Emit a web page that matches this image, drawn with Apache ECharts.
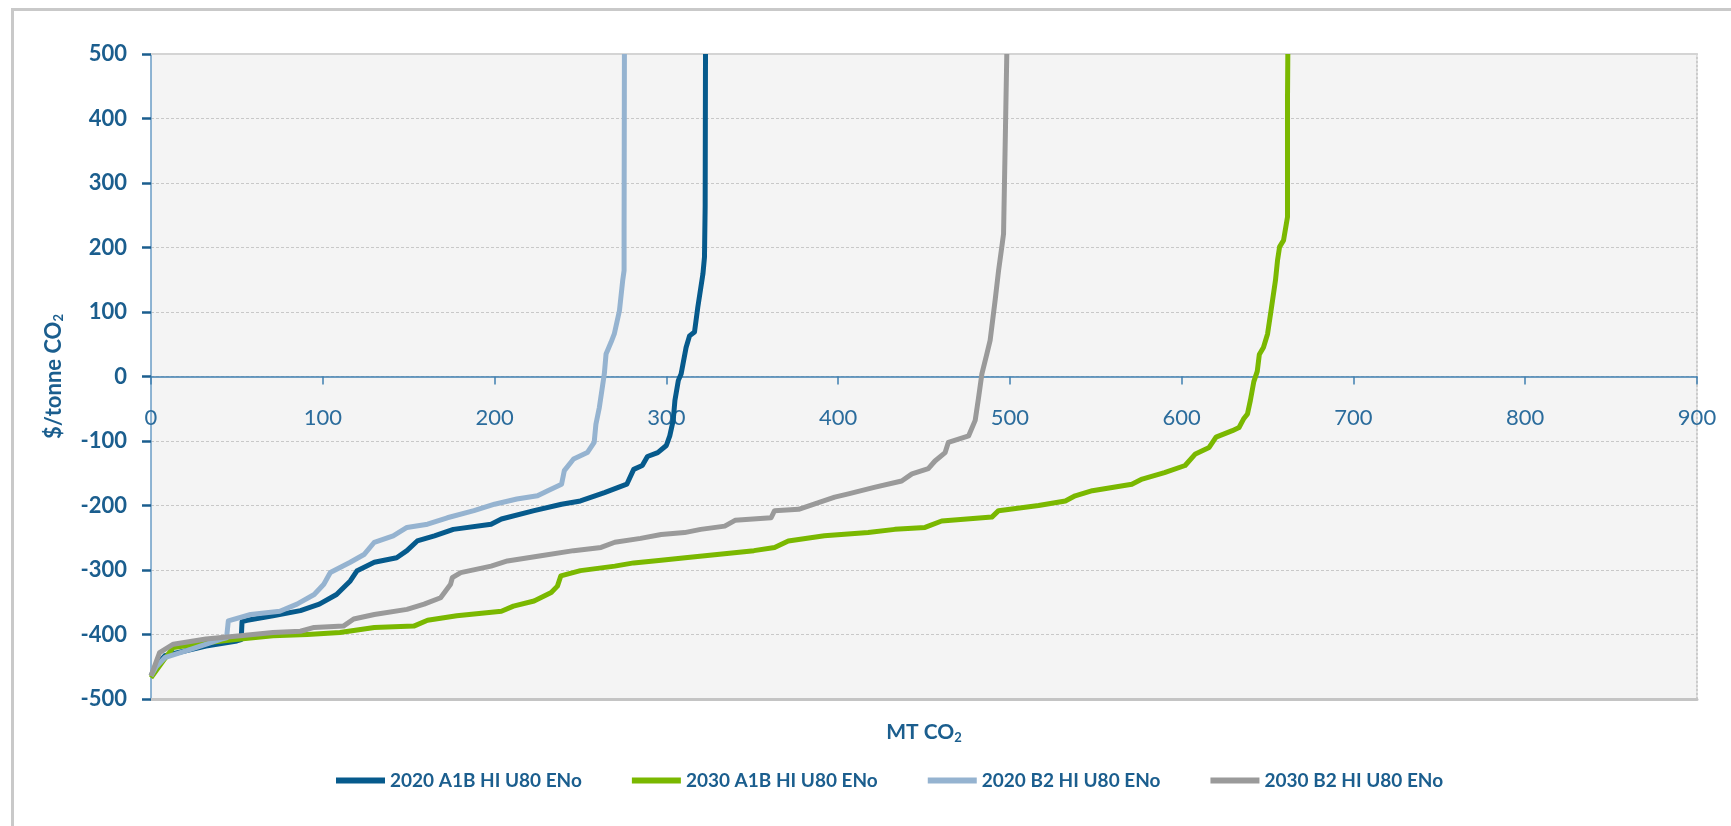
<!DOCTYPE html>
<html><head><meta charset="utf-8">
<script src="https://cdn.jsdelivr.net/npm/echarts@6/dist/echarts.min.js"></script>
<style>html,body{margin:0;padding:0;background:#fff}#c{width:1731px;height:826px}</style>
</head><body><div id="c"></div>
<script>
// ---- data (x: MT CO2, y: $/tonne CO2) ----
const seriesNames = ['2020 A1B HI U80 ENo', '2030 A1B HI U80 ENo', '2020 B2 HI U80 ENo', '2030 B2 HI U80 ENo'];
const seriesColors = ['#065a8c', '#7ab800', '#95b3d0', '#9a9a9a'];

const curve2020A1B = [[0,-464],[3,-448],[8,-433],[19,-426],[32,-418],[50,-410],[52.5,-408],[53,-380],[56,-378],[71,-371],[87,-363],[98,-353],[108,-338],[116,-317],[120,-301],[130,-288],[143,-281],[149,-270],[155,-255],[165,-247],[176,-237],[198,-229],[204,-221],[223,-208],[239,-198],[250,-193],[264,-180],[277,-167],[281,-144],[286,-138],[289,-124],[295,-118],[300,-107],[302,-92],[304,-68],[305,-37],[307,-6],[308.6,4],[311.5,45],[313.5,63],[316.4,69],[318.3,107],[321.3,159],[322.2,185],[322.6,263],[322.8,500]];

const curve2030A1B = [[0,-467],[7,-441],[13,-420],[32,-413],[52,-407],[71,-402],[91,-400],[110,-397],[130,-389],[153,-387],[161,-378],[178,-371],[204,-364],[211,-356],[223,-348],[233,-335],[236.6,-325],[238.6,-309],[250,-301],[270,-294],[281,-289],[297,-285],[311,-281],[351,-270],[363,-265],[371,-255],[392,-247],[417.5,-242],[433,-237],[450.6,-234],[460.3,-224],[489.5,-218],[493.4,-208],[516.7,-200],[532.3,-193],[538,-185],[548,-177],[571,-167],[577,-159],[590,-149],[602,-138],[608,-120],[616,-110],[620,-94],[629.5,-84],[633.4,-79],[636,-66],[638.3,-58],[640,-37],[642,-8],[644,8],[645.2,34],[647.6,45],[650,66],[652.3,107],[654.6,149],[655.8,180],[657,201],[659.3,211],[661.6,247],[661.6,428],[661.8,500]];

const curve2020B2 = [[0,-464],[3,-450],[8,-436],[23,-423],[41,-407],[44,-405],[45,-379],[46,-378],[58,-369],[75,-364],[85,-353],[95,-338],[100.6,-322],[104.4,-304],[116,-288],[124,-276],[130,-257],[141,-247],[149,-234],[161,-229],[172.5,-219],[188,-208],[200,-198],[213,-190],[225,-185],[231,-177],[239,-167],[240.6,-146],[246,-128],[254,-118],[258,-102],[259,-74],[261,-48],[262,-30],[263.9,4],[264.9,35],[267.8,53],[269.7,66],[272.7,102],[274.6,149],[275.4,164],[275.4,221],[275.6,500]];

const curve2030B2 = [[0,-464],[5,-428],[13,-415],[32,-407],[52,-402],[71,-397],[87,-395],[95,-389],[112,-387],[118,-376],[130,-369],[149,-361],[159,-353],[168.6,-343],[174.4,-322],[175.4,-312],[180.3,-304],[198,-294],[207.5,-286],[227,-278],[246,-270],[262,-265],[270,-257],[285,-251],[297,-245],[310.6,-242],[320,-237],[334,-232],[340,-223],[361,-219],[363,-208],[377,-206],[386,-198],[398,-187],[406,-182],[421,-172],[437,-162],[443,-151],[452.5,-143],[456.4,-131],[462.3,-118],[464.2,-102],[476,-92],[479.8,-68],[481.7,-34],[483.7,4],[486.6,35],[488.5,56],[491.4,118],[493.4,164],[495.3,201],[496.3,221],[497.3,366],[498.2,500]];

const seriesData = [curve2020A1B, curve2030A1B, curve2020B2, curve2030B2];
const xRange = [0, 900, 100];
const yRange = [-500, 500, 100];
const yAxisTitle = '{a|$/tonne CO}{s|2}';
const xAxisTitle = '{a|MT CO}{s|2}';

const DARK = '#1b5e8e';
const GRID = {left: 151, right: 34, top: 54, bottom: 127};
const gridH = 826 - GRID.top - GRID.bottom;
// place the labelled x axis where y = 0 (same as Excel's crossing)
const zeroOffset = -gridH * (0 - yRange[0]) / (yRange[1] - yRange[0]);

const titleRich = (fs) => ({
  a: {fontSize: fs, fontWeight: 'bold', color: DARK, fontFamily: 'Lato'},
  s: {fontSize: Math.round(fs * 0.6), fontWeight: 'bold', color: DARK, fontFamily: 'Lato', padding: [10, 0, 0, 0]}
});

const chart = echarts.init(document.getElementById('c'), null, {renderer: 'canvas'});
chart.setOption({
  animation: false,
  backgroundColor: '#ffffff',
  graphic: [{
    type: 'rect', left: 10, top: 7, silent: true, z: -10,
    shape: {width: 1760, height: 860},
    style: {fill: 'none', stroke: '#c9c9c9', lineWidth: 3}
  }],
  grid: Object.assign({show: true, backgroundColor: '#f4f4f4', borderWidth: 0}, GRID),
  legend: {
    data: seriesNames, left: 331, top: 766, icon: 'rect', itemWidth: 49, itemHeight: 6, itemGap: 50,
    textStyle: {fontFamily: 'Lato', fontWeight: 'bold', fontSize: 19, color: DARK}
  },
  xAxis: [
    {type: 'value', min: xRange[0], max: xRange[1], interval: xRange[2], position: 'bottom', offset: zeroOffset,
     axisLine: {show: true, onZero: false, lineStyle: {color: '#3f7fb0', width: 1.5}},
     axisTick: {show: true, length: 8, lineStyle: {color: '#3f7fb0', width: 1.5}},
     axisLabel: {margin: 30, fontFamily: 'Lato', fontSize: 22, color: '#2b6c9c'},
     splitLine: {show: false}},
    {type: 'value', min: xRange[0], max: xRange[1], position: 'top',
     axisLine: {show: true, onZero: false, lineStyle: {color: '#d4d4d4', width: 2}},
     axisTick: {show: false}, axisLabel: {show: false}, splitLine: {show: false}},
    {type: 'value', min: xRange[0], max: xRange[1], position: 'bottom',
     axisLine: {show: true, onZero: false, lineStyle: {color: '#c4c4c4', width: 3}},
     axisTick: {show: false}, axisLabel: {show: false}, splitLine: {show: false},
     name: xAxisTitle, nameLocation: 'middle', nameGap: 22,
     nameTextStyle: {color: DARK, fontFamily: 'Lato', fontWeight: 'bold', rich: titleRich(21)}}
  ],
  yAxis: [
    {type: 'value', min: yRange[0], max: yRange[1], interval: yRange[2], position: 'left',
     axisLine: {show: true, onZero: false, lineStyle: {color: '#6a9cc6', width: 1.5}},
     axisTick: {show: true, length: 9, lineStyle: {color: DARK, width: 2.5}},
     axisLabel: {margin: 24, fontFamily: 'Lato', fontWeight: 'bold', fontSize: 22, color: DARK},
     splitLine: {show: true, showMinLine: false, showMaxLine: false, lineStyle: {color: '#c8c8c8', type: [3, 2], width: 1}},
     name: yAxisTitle, nameLocation: 'middle', nameGap: 86, nameRotate: 90,
     nameTextStyle: {color: DARK, fontFamily: 'Lato', fontWeight: 'bold', rich: titleRich(22)}},
    {type: 'value', min: yRange[0], max: yRange[1], position: 'right',
     axisLine: {show: true, onZero: false, lineStyle: {color: '#bdbdbd', type: [2, 2], width: 1.5}},
     axisTick: {show: false}, axisLabel: {show: false}, splitLine: {show: false}}
  ],
  series: seriesNames.map((name, i) => ({
    name: name, type: 'line', xAxisIndex: 0, yAxisIndex: 0,
    data: seriesData[i], showSymbol: false, symbol: 'none',
    itemStyle: {color: seriesColors[i]},
    lineStyle: {color: seriesColors[i], width: 5, join: 'round'},
    z: 2 + i
  }))
});
</script></body></html>
